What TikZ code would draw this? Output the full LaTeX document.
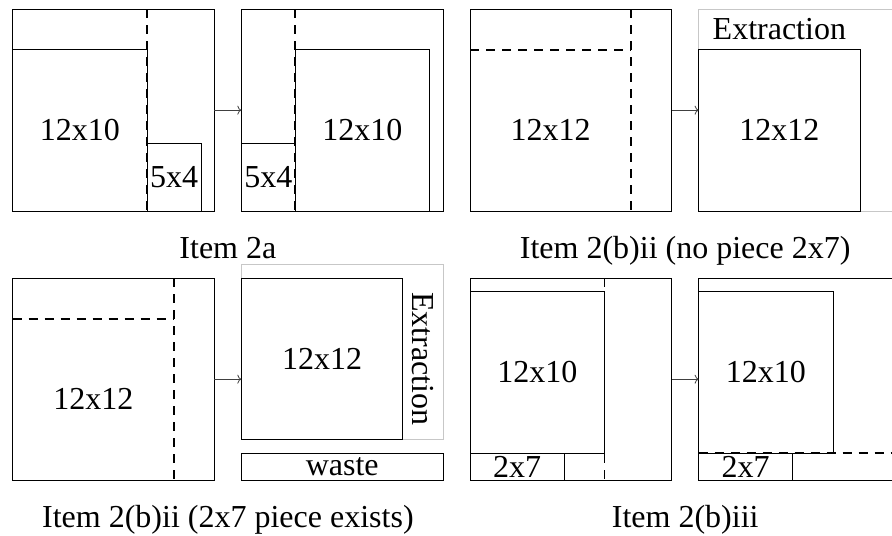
\documentclass[tikz,border=0pt]{standalone}
\usepackage{fontspec}
\setmainfont{Liberation Serif}
\usetikzlibrary{fit,arrows.meta}
\begin{document}
\begin{tikzpicture}[x=13.45pt,y=-13.45pt,
  every node/.style={font=\fontsize{32}{36}\selectfont},
  pbox/.style={draw=black, line width=1pt, rectangle, inner sep=0pt, outer sep=0pt},
  ghost/.style={rectangle, inner sep=0pt, outer sep=0pt},
  ebox/.style={draw=black!22, line width=1pt, rectangle, inner sep=0pt, outer sep=0pt},
  txt/.style={inner sep=0pt},
  cut/.style={line width=1.9pt, dash pattern=on 9pt off 7pt},
  flow/.style={draw=black!75, line width=0.8pt, -{To[length=4pt,width=9pt]}}]
\useasboundingbox (-0.944,-0.691) rectangle (65.375,39.16);
\clip (-0.944,-0.691) rectangle (65.375,39.16);

% ---------- Item 2a ----------
\node[pbox, fit={(0,0)(15,15)}] (A1) {};
\node[pbox, fit={(0,3)(10,15)}] (A1p) {};
\node[txt] at (A1p.center) {12x10};
\node[pbox, fit={(10,10)(14,15)}] (A1s) {};
\node[txt] at (A1s.center) {5x4};
\draw[cut] (A1p.north east |- A1.north) -- (A1p.south east);

\node[pbox, fit={(17,0)(32,15)}] (A2) {};
\node[pbox, fit={(17,10)(21,15)}] (A2s) {};
\node[txt] at (A2s.center) {5x4};
\node[pbox, fit={(21,3)(31,15)}] (A2p) {};
\node[txt] at (A2p.center) {12x10};
\draw[cut] (A2s.east |- A2.north) -- (A2s.south east);
\draw[flow] (A1.east) -- (A2.west);
\node[anchor=base] (capA) at (16,18.5) {Item 2a};

% ---------- Item 2(b)ii (no piece) ----------
\node[pbox, fit={(34,0)(49,15)}] (B1) {};
\node[ghost, fit={(34,3)(46,15)}] (B1p) {};
\node[txt] at (B1p.center) {12x12};
\draw[cut] (B1p.north west) -- (B1p.north east);
\draw[cut] (B1p.east |- B1.north) -- (B1p.south east);

\node[ebox, fit={(51,0)(66,15)}] (B2x) {};
\node[pbox, fit={(51,3)(63,15)}] (B2) {};
\node[txt] at (B2.center) {12x12};
\node[txt] (B2t) at (57,1.5) {Extraction};
\draw[flow] (B1.east) -- (B2x.west);
\node[anchor=base] (capB) at (50,18.5) {Item 2(b)ii (no piece 2x7)};

% ---------- Item 2(b)ii (2x7 piece exists) ----------
\node[pbox, fit={(0,20)(15,35)}] (C1) {};
\node[ghost, fit={(0,23)(12,35)}] (C1p) {};
\node[txt] at (C1p.center) {12x12};
\draw[cut] (C1p.north west) -- (C1p.north east);
\draw[cut] (C1p.east |- C1.north) -- (C1p.south east);

\node[ebox, fit={(17,19)(32,32)}] (C2x) {};
\node[pbox, fit={(17,20)(29,32)}] (C2) {};
\node[txt] at (C2.center) {12x12};
\node[txt, rotate=-90] (C2t) at (30.5,26) {Extraction};
\node[pbox, fit={(17,33)(32,35)}] (C2w) {};
\node[txt] at (C2w.center) {waste};
\draw[flow] (C1.east) -- (C1.east -| C2.west);
\node[anchor=base] (capC) at (16,38.5) {Item 2(b)ii (2x7 piece exists)};

% ---------- Item 2(b)iii ----------
\node[pbox, fit={(34,20)(49,35)}] (D1) {};
\node[pbox, fit={(34,21)(44,33)}] (D1p) {};
\node[txt] at (D1p.center) {12x10};
\node[pbox, fit={(34,33)(41,35)}] (D1s) {};
\node[txt] at (D1s.center) {2x7};
\draw[cut] (D1p.east |- D1.north) -- (D1p.east |- D1.south);

\node[pbox, fit={(51,20)(66,35)}] (D2) {};
\node[pbox, fit={(51,21)(61,33)}] (D2p) {};
\node[txt] at (D2p.center) {12x10};
\node[pbox, fit={(51,33)(58,35)}] (D2s) {};
\node[txt] at (D2s.center) {2x7};
\draw[cut] (D2s.north west) -- (D2s.north west -| D2.east);
\draw[flow] (D1.east) -- (D2.west);
\node[anchor=base] (capD) at (50,38.5) {Item 2(b)iii};
\end{tikzpicture}
\end{document}
